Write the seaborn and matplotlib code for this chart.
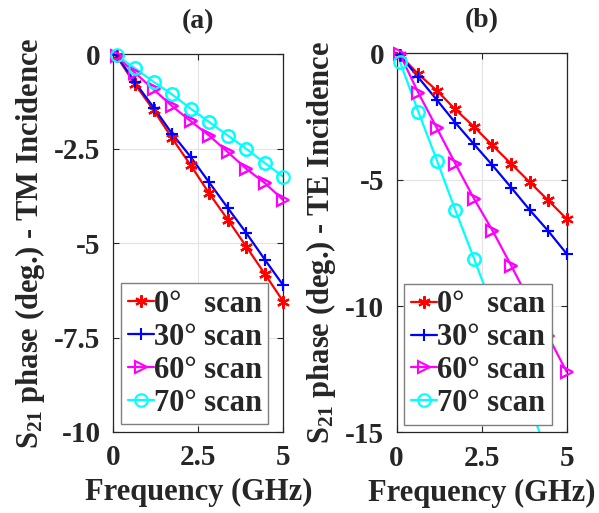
import numpy as np
import pandas as pd
import matplotlib
matplotlib.use("Agg")
import matplotlib.pyplot as plt
import seaborn as sns

#------------ data -----------
freq = [0.1, 0.64, 1.19, 1.73, 2.28, 2.82, 3.37, 3.91, 4.46, 5.0]

tm_0 = [-0.05, -0.79, -1.48, -2.22, -2.94, -3.68, -4.38, -5.09, -5.82, -6.55]
tm_30 = [-0.02, -0.74, -1.41, -2.10, -2.72, -3.39, -4.07, -4.73, -5.44, -6.12]
tm_60 = [-0.05, -0.49, -0.93, -1.37, -1.77, -2.15, -2.59, -3.03, -3.41, -3.86]
tm_70 = [-0.02, -0.37, -0.73, -1.06, -1.44, -1.79, -2.15, -2.50, -2.88, -3.24]

te_0 = [-0.07, -0.82, -1.48, -2.22, -2.91, -3.64, -4.37, -5.09, -5.82, -6.55]
te_30 = [-0.07, -0.95, -1.85, -2.75, -3.60, -4.43, -5.31, -6.19, -7.03, -7.93]
te_60 = [-0.04, -1.56, -2.97, -4.37, -5.76, -7.01, -8.40, -9.80, -11.2, -12.6]
te_70 = [-0.33, -2.31, -4.25, -6.21, -8.13, -10.06, -12.0, -13.95, -15.9, -17.8]

labels = ["0\u00b0   scan", "30\u00b0 scan", "60\u00b0 scan", "70\u00b0 scan"]
colors = ["#ff0000", "#0000ff", "#ff00ff", "#00ffff"]
markers = [(6, 2, 0), "+", ">", "o"]

#------------ style -----------
sns.set_theme(style="ticks")
plt.rcParams["font.family"] = ["Liberation Serif", "DejaVu Serif"]
plt.rcParams["font.weight"] = "bold"
plt.rcParams["mathtext.fontset"] = "custom"
plt.rcParams["mathtext.rm"] = "Liberation Serif:bold"
plt.rcParams["mathtext.bf"] = "Liberation Serif:bold"
plt.rcParams["mathtext.default"] = "bf"

fig = plt.figure(figsize=(5.99, 5.13), dpi=100)
ax1 = fig.add_axes([0.189, 0.158, 0.284, 0.736])
ax2 = fig.add_axes([0.662, 0.157, 0.284, 0.739])


def draw(ax, series, ylim, yticks, yticklabels, ylabel, title):
    for vals, lab, col, mk in zip(series, labels, colors, markers):
        df = pd.DataFrame({"f": freq, "v": vals})
        style = dict(marker=mk, markersize=9, markerfacecolor="none",
                     markeredgecolor=col, markeredgewidth=1.5)
        sns.lineplot(data=df, x="f", y="v", ax=ax, color=col, linewidth=1.6,
                     label=lab, sort=False, **style)
        # markers inside the y range are not cut at the frame
        inside = df[df["v"] >= ylim[0]]
        ax.plot(inside["f"], inside["v"], linestyle="none", clip_on=False,
                label="_nolegend_", zorder=3, **style)
    ax.set_xlim(0, 5)
    ax.set_ylim(*ylim)
    ax.set_xticks([0, 2.5, 5])
    ax.set_xticklabels(["0", "2.5", "5"])
    ax.set_yticks(yticks)
    ax.set_yticklabels(yticklabels)
    ax.grid(True, color="#e3e3e3", linewidth=0.8)
    ax.tick_params(direction="in", top=True, right=True, length=4, width=0.8,
                   labelsize=21, colors="#262626", pad=9)
    for s in ax.spines.values():
        s.set_color("#262626")
        s.set_linewidth(0.9)
    ax.set_xlabel("Frequency (GHz)", fontsize=22, fontweight="bold", color="#262626",
                  labelpad=5)
    ax.set_ylabel(ylabel, fontsize=22, fontweight="bold", color="#262626", labelpad=5)
    ax.set_title(title, fontsize=20, fontweight="bold", pad=19)
    leg = ax.legend(loc="lower left", bbox_to_anchor=(0.045, 0.02), fontsize=22,
                    handlelength=0.85, handletextpad=0.0, borderpad=0.22,
                    labelspacing=0.13, borderaxespad=0, fancybox=False,
                    framealpha=1, facecolor="white", edgecolor="#7f7f7f")
    leg.get_frame().set_linewidth(1.0)
    leg.set_zorder(10)
    for t in leg.get_texts():
        t.set_fontweight("bold")


draw(ax1, [tm_0, tm_30, tm_60, tm_70], (-10, 0), [-10, -7.5, -5, -2.5, 0],
     ["-10", "-7.5", "-5", "-2.5", "0"], r"$S_{21}$ phase (deg.) - TM Incidence", "(a)")
draw(ax2, [te_0, te_30, te_60, te_70], (-15, 0), [-15, -10, -5, 0],
     ["-15", "-10", "-5", "0"], r"$S_{21}$ phase (deg.) - TE Incidence", "(b)")

fig.savefig("out.png", dpi=100)
